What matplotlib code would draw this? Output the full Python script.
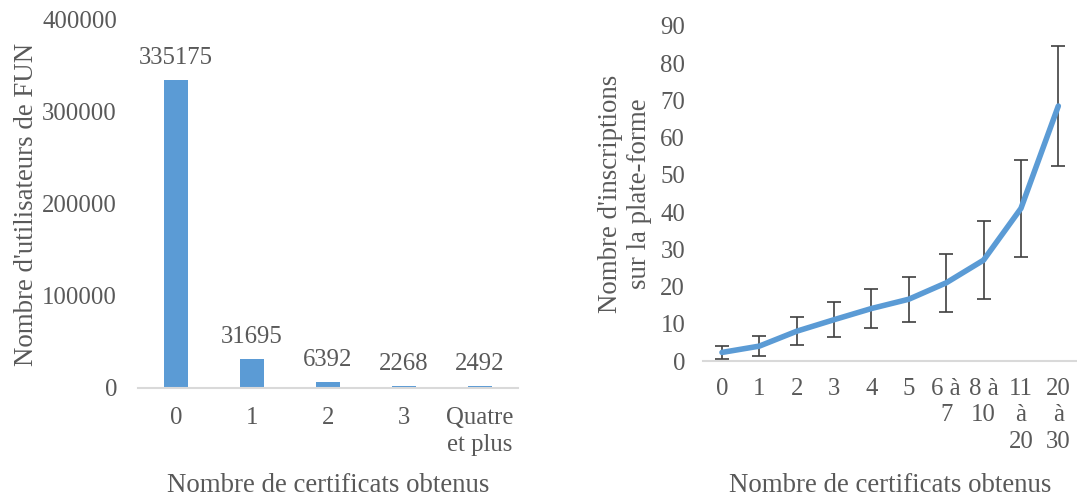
import matplotlib.pyplot as plt

plt.rcParams["font.family"] = ["Liberation Serif", "DejaVu Serif"]

grey = "#595959"
blue = "#5B9BD5"
axis_col = "#D9D9D9"

# left chart: users per number of certificates
bar_labels = ["0", "1", "2", "3", "Quatre\net plus"]
bar_values = [335175, 31695, 6392, 2268, 2492]

# right chart: registrations per number of certificates
line_labels = ["0", "1", "2", "3", "4", "5", "6 à\n7", "8 à\n10", "11\nà\n20", "20\nà\n30"]
line_values = [2.3, 4.0, 8.0, 11.1, 14.1, 16.6, 21.0, 27.1, 41.0, 68.5]
line_err = [1.7, 2.7, 3.7, 4.7, 5.3, 6.0, 7.8, 10.5, 13.0, 16.0]

tick_fs = 17.8
title_fs = 19.4


def style_axes(ax, ypad, xpad):
    for s in ["top", "right", "left"]:
        ax.spines[s].set_visible(False)
    ax.spines["bottom"].set_color(axis_col)
    ax.spines["bottom"].set_linewidth(1.5)
    ax.tick_params(length=0, colors=grey, labelsize=tick_fs)
    ax.tick_params(axis="y", pad=ypad)
    ax.tick_params(axis="x", pad=xpad)


fig = plt.figure(figsize=(10.77, 5), dpi=100)

# bar chart
ax1 = fig.add_axes([0.128, 0.224, 0.353, 0.736])
xs = range(len(bar_values))
ax1.bar(xs, bar_values, width=0.31, color=blue)
for x, v in zip(xs, bar_values):
    ax1.annotate(str(v), (x, v), xytext=(0, 8), textcoords="offset points",
                 ha="center", va="bottom", fontsize=tick_fs, color=grey)
ax1.set_xlim(-0.5, 4.5)
ax1.set_ylim(0, 400000)
ax1.set_yticks([0, 100000, 200000, 300000, 400000])
ax1.set_xticks(list(xs))
ax1.set_xticklabels(bar_labels, linespacing=1.28)
style_axes(ax1, 15, 14)
ax1.set_xlabel("Nombre de certificats obtenus", fontsize=title_fs, color=grey, labelpad=12)
ax1.set_ylabel("Nombre d'utilisateurs de FUN", fontsize=title_fs, color=grey, labelpad=2)

# line chart with error bars
ax2 = fig.add_axes([0.653, 0.278, 0.347, 0.67])
lx = range(len(line_values))
ax2.errorbar(lx, line_values, yerr=line_err, fmt="none", ecolor="#404040",
             elinewidth=1.2, capsize=5, capthick=1.2, zorder=2)
ax2.plot(lx, line_values, color=blue, lw=4, solid_capstyle="round", zorder=3)
ax2.set_xlim(-0.5, 9.5)
ax2.set_ylim(0, 90)
ax2.set_yticks(range(0, 91, 10))
ax2.set_xticks(list(lx))
ax2.set_xticklabels(line_labels, linespacing=1.28, va="top")
style_axes(ax2, 13, 12)
ax2.set_xlabel("Nombre de certificats obtenus", fontsize=title_fs, color=grey, labelpad=14)
ax2.set_ylabel("Nombre d'inscriptions\nsur la plate-forme", fontsize=title_fs, color=grey,
               labelpad=6, linespacing=1.2)

fig.savefig("out.png", dpi=100, facecolor="white")
